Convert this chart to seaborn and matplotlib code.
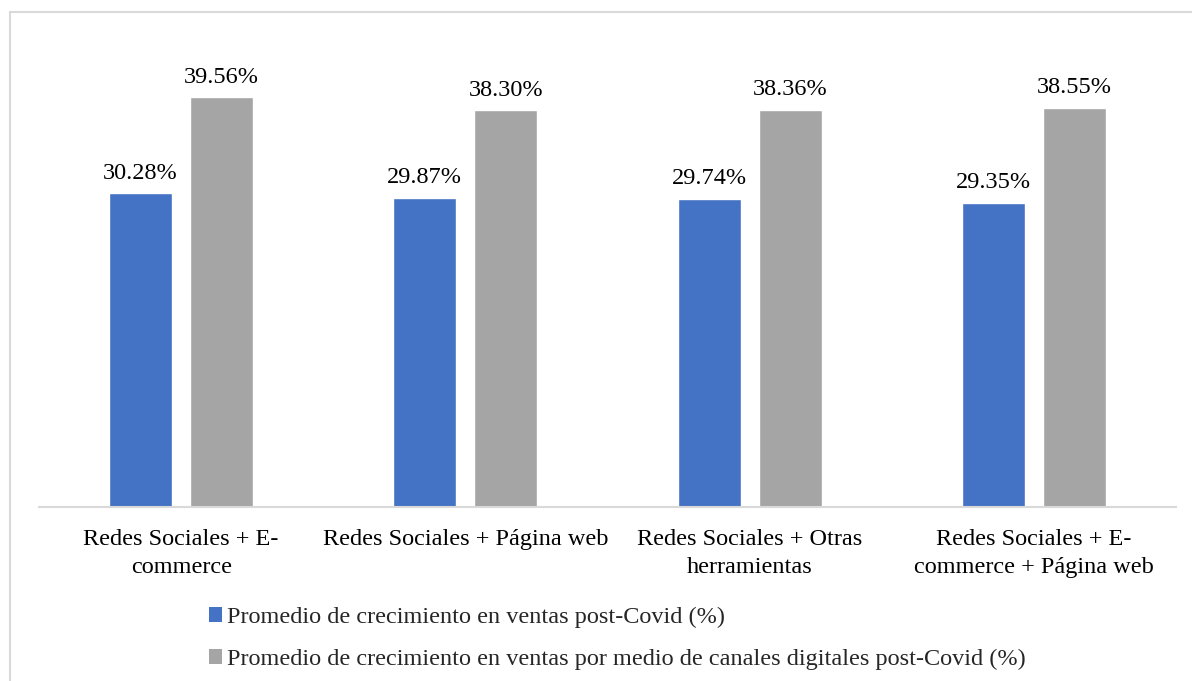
import matplotlib
matplotlib.use("Agg")
import matplotlib.pyplot as plt
from matplotlib.patches import Patch, Rectangle
import pandas as pd
import seaborn as sns

categories = [
    "Redes Sociales + E-\ncommerce",
    "Redes Sociales + Página web",
    "Redes Sociales + Otras\nherramientas",
    "Redes Sociales + E-\ncommerce + Página web",
]
series_names = [
    "Promedio de crecimiento en ventas post-Covid (%)",
    "Promedio de crecimiento en ventas por medio de canales digitales post-Covid (%)",
]
ventas_post_covid = [30.28, 29.87, 29.74, 29.35]
ventas_canales_digitales = [39.56, 38.30, 38.36, 38.55]
colors = ["#4472C4", "#A5A5A5"]

df = pd.DataFrame({
    "categoria": categories * 2,
    "serie": [series_names[0]] * 4 + [series_names[1]] * 4,
    "valor": ventas_post_covid + ventas_canales_digitales,
})

sns.set_theme(style="white")
plt.rcParams["font.family"] = ["Liberation Serif", "DejaVu Serif"]
FS = 17.5

fig = plt.figure(figsize=(11.92, 6.81), dpi=100)
ax = fig.add_axes([39 / 1192, 1 - 507 / 681, (1176 - 39) / 1192, (507 - 41) / 681])

sns.barplot(data=df, x="categoria", y="valor", hue="serie", palette=colors,
            width=0.57, gap=0.22, ax=ax, legend=False, saturation=1)

for container in ax.containers:
    ax.bar_label(container, labels=[f"{v:.2f}%" for v in container.datavalues],
                 padding=7, fontsize=FS, color="#000000")

ax.set_ylim(0, 45)
ax.set_xlim(-0.5, 3.5)
ax.set_xlabel("")
ax.set_ylabel("")
ax.set_yticks([])
ax.tick_params(axis="x", length=0, pad=16, labelsize=FS, colors="#000000")
for lbl in ax.get_xticklabels():
    lbl.set_linespacing(1.4)
for side in ["left", "right", "top"]:
    ax.spines[side].set_visible(False)
ax.spines["bottom"].set_color("#D9D9D9")
ax.spines["bottom"].set_linewidth(1.5)

handles = [Patch(facecolor=c, edgecolor="none") for c in colors]
fig.legend(handles, series_names, loc="upper left",
           bbox_to_anchor=(209 / 1192, 1 - 607 / 681), frameon=False,
           fontsize=FS, handlelength=0.55, handleheight=0.55, handletextpad=0.2,
           labelspacing=0.85, borderpad=0, borderaxespad=0)

# outer chart frame
fig.patches.append(Rectangle((10 / 1192, -0.05), 1.1, 1 - 12 / 681 + 0.05,
                             transform=fig.transFigure, fill=False,
                             edgecolor="#D9D9D9", linewidth=1.5))

fig.savefig("out.png", dpi=100, facecolor="white")
